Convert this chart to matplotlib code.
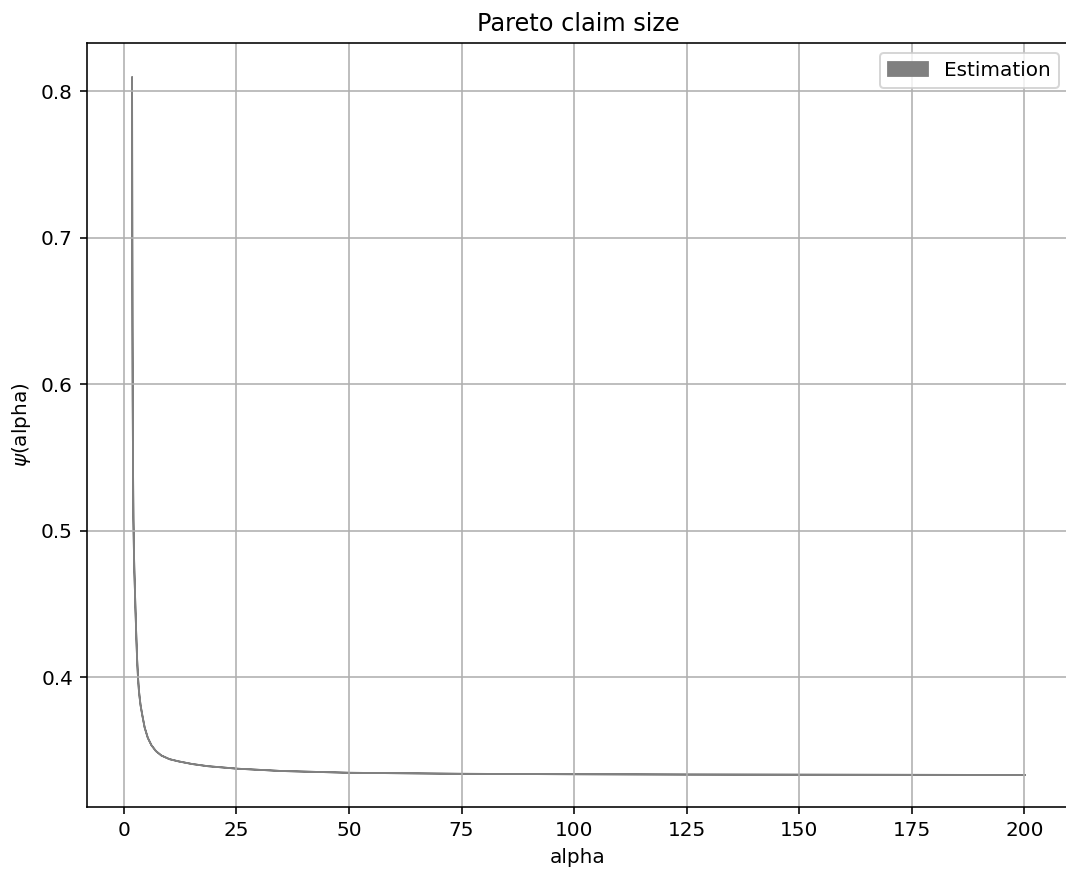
import matplotlib
matplotlib.use("Agg")
import matplotlib.pyplot as plt
import numpy as np

# values
alpha = [1.70, 1.72, 1.75, 1.79, 1.84, 1.90, 1.95, 2.00, 2.10, 2.20, 2.30,
         2.45, 2.60, 2.80, 3.00, 3.20, 3.40, 3.60, 4.00, 4.50, 5.20, 6.00,
         7.00, 8.20, 10.0, 12.0, 15.0, 18.5, 25.0, 35.0, 50.0, 75.0, 100.0,
         125.0, 150.0, 175.0, 200.0]
psi = [0.810, 0.760, 0.700, 0.640, 0.590, 0.550, 0.527, 0.508, 0.488, 0.474,
       0.463, 0.447, 0.432, 0.414, 0.401, 0.392, 0.386, 0.381, 0.374, 0.366,
       0.359, 0.354, 0.350, 0.347, 0.3445, 0.3430, 0.3412, 0.3397, 0.3380,
       0.3364, 0.3352, 0.3345, 0.3342, 0.3340, 0.3339, 0.3338, 0.3337]

alpha = np.array(alpha)
psi = np.array(psi)

fig = plt.figure(figsize=(1066 / 144, 870 / 144), dpi=144)
# right spine falls just past the edge of the picture, as in the reference
ax = fig.add_axes([87 / 1066, 63 / 870, 982 / 1066, 764 / 870])

ax.fill_between(alpha, psi, psi, color='gray', linewidth=0.9, label='Estimation')
ax.set_xlim(-8.2, 209.9)
ax.set_ylim(0.3115, 0.833)
ax.set_yticks([0.4, 0.5, 0.6, 0.7, 0.8])
ax.set_xticks([0, 25, 50, 75, 100, 125, 150, 175, 200])

ax.set_title('Pareto claim size')
ax.set_xlabel('alpha')
ax.set_ylabel(r'$\psi$(alpha)')
ax.legend(loc='upper right')
ax.grid(True)

fig.savefig('out.png', dpi=144)
